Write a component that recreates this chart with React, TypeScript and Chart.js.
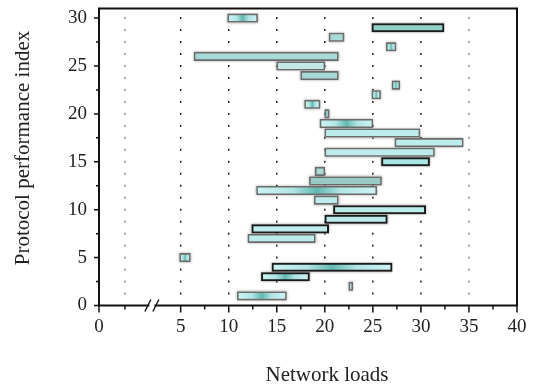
import React, { useEffect, useRef } from "react";
import { Chart, registerables } from "chart.js";

Chart.register(...registerables);

// ---- data ----
const indices = [1, 2, 3, 4, 5, 7, 8, 9, 10, 11, 12, 13, 14, 15, 16, 17, 18, 19, 20, 21, 22, 23, 24, 25, 26, 27, 28, 29, 30];
const starts = [10.9, 22.5, 13.4, 14.5, 4.9, 12.0, 12.4, 20.0, 20.9, 18.9, 12.9, 18.4, 19.0, 25.9, 20.0, 27.3, 20.0, 19.5, 20.0, 17.9, 24.9, 27.0, 17.5, 15.0, 6.4, 26.4, 20.45, 24.9, 9.9];
const ends = [16.0, 22.9, 18.4, 27.0, 6.0, 19.0, 20.4, 26.5, 30.5, 21.4, 25.4, 25.9, 20.0, 30.9, 31.4, 34.4, 29.9, 25.0, 20.45, 19.5, 25.8, 27.8, 21.4, 20.0, 21.4, 27.4, 22.0, 32.4, 13.0];

// axis ticks (broken x axis: the first tick is labelled 0)
const XMIN = -3.5;
const BREAK_X = 2;
const xTickValues = [XMIN, 5, 10, 15, 20, 25, 30, 35, 40];
const xMinorTicks = [-0.8, 7.5, 12.5, 17.5, 22.5, 27.5, 32.5, 37.5];
const yTickValues = [0, 5, 10, 15, 20, 25, 30];
const yMinorTicks = [2.5, 7.5, 12.5, 17.5, 22.5, 27.5];
const gridXValues = [-0.8, 5, 10, 15, 20, 25, 30, 35];
const xTitle = "Network loads";
const yTitle = "Protocol performance index";

// ---- styles ----
const fillKinds = ["g", "l", "g", "g", "g", "l", "l", "l", "l", "l", "g", "r", "m", "p", "l", "l", "l", "g", "g", "g", "g", "g", "m", "c", "m", "g", "m", "f", "g"];
const borderKinds = ["g", "g", "k", "k", "g", "g", "k", "k", "k", "g", "g", "g", "g", "k", "g", "g", "g", "g", "g", "g", "g", "g", "g", "g", "g", "g", "g", "k", "g"];
const fillColors: Record<string, string> = {
  l: "#bdeced",
  m: "#a6dbd7",
  r: "#98cac6",
  p: "#a8e6e4",
  c: "#c3e8e6",
  f: "#8ecfc8",
};
const borderColors: Record<string, string> = { g: "#6b6b6b", k: "#1a1a1a" };
const borderWidths: Record<string, number> = { g: 1.6, k: 2 };

const FONT = "'Liberation Serif', 'Times New Roman', serif";

const decorPlugin = {
  id: "decor",
  beforeDatasetsDraw(chart: any) {
    const { ctx } = chart;
    const xs = chart.scales.x;
    const ys = chart.scales.y;
    ctx.save();
    // dotted vertical grid
    gridXValues.forEach((v) => {
      const px = xs.getPixelForValue(v);
      ctx.fillStyle = v === -0.8 || v === 35 ? "#8a8a8a" : "#1e1e1e";
      for (let k = 1; k <= 24; k++) {
        const py = ys.getPixelForValue(k * 1.25);
        ctx.fillRect(px - 0.75, py - 1, 1.5, 2);
      }
    });
    // soft halo behind bars
    const meta = chart.getDatasetMeta(0);
    meta.data.forEach((el: any) => {
      const p = el.getProps(["x", "y", "base", "height"], true);
      const l = Math.min(p.x, p.base);
      const r = Math.max(p.x, p.base);
      ctx.save();
      ctx.shadowColor = "rgba(0,0,0,0.35)";
      ctx.shadowBlur = 2.5;
      ctx.fillStyle = "#bdbdbd";
      ctx.fillRect(l - 0.3, p.y - p.height / 2 - 0.3, r - l + 0.6, p.height + 0.6);
      ctx.restore();
    });
    ctx.restore();
  },
  afterDatasetsDraw(chart: any) {
    const { ctx, chartArea } = chart;
    const xs = chart.scales.x;
    const ys = chart.scales.y;
    const { left, right, top, bottom } = chartArea;
    ctx.save();
    ctx.strokeStyle = "#111";
    ctx.lineWidth = 2;
    ctx.beginPath();
    ctx.rect(left, top, right - left, bottom - top);
    ctx.stroke();
    ctx.lineWidth = 1.5;
    ctx.beginPath();
    xTickValues.forEach((v) => {
      const px = xs.getPixelForValue(v);
      ctx.moveTo(px, bottom);
      ctx.lineTo(px, bottom + 7);
    });
    xMinorTicks.forEach((v) => {
      const px = xs.getPixelForValue(v);
      ctx.moveTo(px, bottom);
      ctx.lineTo(px, bottom + 4);
    });
    yTickValues.forEach((v) => {
      const py = ys.getPixelForValue(v);
      ctx.moveTo(left, py);
      ctx.lineTo(left - 5, py);
    });
    yMinorTicks.forEach((v) => {
      const py = ys.getPixelForValue(v);
      ctx.moveTo(left, py);
      ctx.lineTo(left - 3, py);
    });
    ctx.stroke();
    // axis break marks
    const bx = xs.getPixelForValue(BREAK_X);
    ctx.fillStyle = "#fff";
    ctx.fillRect(bx - 2.5, bottom - 1.5, 5, 3);
    ctx.lineWidth = 1.4;
    ctx.beginPath();
    ctx.moveTo(bx - 7, bottom + 6);
    ctx.lineTo(bx - 1, bottom - 6);
    ctx.moveTo(bx + 1, bottom + 6);
    ctx.lineTo(bx + 7, bottom - 6);
    ctx.stroke();
    ctx.restore();
  },
  afterDraw(chart: any) {
    const { ctx } = chart;
    ctx.save();
    ctx.fillStyle = "#222";
    ctx.font = `21px ${FONT}`;
    ctx.textAlign = "center";
    ctx.textBaseline = "middle";
    ctx.fillText(xTitle, 327, 375);
    ctx.translate(23, 148);
    ctx.rotate(-Math.PI / 2);
    ctx.fillText(yTitle, 0, 0);
    ctx.restore();
  },
};

function bgColor(c: any) {
  const i = c.dataIndex;
  if (i === undefined || i === null) return "#a6dbd7";
  const kind = fillKinds[i];
  if (kind !== "g") return fillColors[kind];
  const xs = c.chart.scales && c.chart.scales.x;
  if (!xs) return "#a6dbd7";
  const x0 = xs.getPixelForValue(starts[i]);
  const x1 = xs.getPixelForValue(ends[i]);
  if (!isFinite(x0) || !isFinite(x1) || x0 === x1) return "#a6dbd7";
  const g = c.chart.ctx.createLinearGradient(x0, 0, x1, 0);
  g.addColorStop(0, "#cdf3f4");
  g.addColorStop(0.3, "#b0e6e4");
  g.addColorStop(0.5, "#62b8b2");
  g.addColorStop(0.7, "#b0e6e4");
  g.addColorStop(1, "#cdf3f4");
  return g;
}

function zeroPad(s: any) {
  s.paddingTop = 0;
  s.paddingBottom = 0;
  s.paddingLeft = 0;
  s.paddingRight = 0;
}

export default function App() {
  const ref = useRef<HTMLCanvasElement>(null);
  useEffect(() => {
    document.body.style.margin = "0";
    const data = indices.map((y, i) => ({ x: [starts[i], ends[i]], y }));
    const chart = new Chart(ref.current!, {
      type: "bar",
      data: {
        datasets: [
          {
            data: data as any,
            backgroundColor: bgColor as any,
            borderColor: ((c: any) => borderColors[borderKinds[c.dataIndex] || "g"]) as any,
            borderWidth: ((c: any) => borderWidths[borderKinds[c.dataIndex] || "g"]) as any,
            borderSkipped: false,
            barThickness: 8.4,
          },
        ],
      },
      plugins: [decorPlugin],
      options: {
        indexAxis: "y",
        animation: false,
        responsive: false,
        devicePixelRatio: 1,
        layout: { padding: { top: 8.5, right: 20, left: 0, bottom: 0 } },
        plugins: { legend: { display: false }, tooltip: { enabled: false } },
        scales: {
          x: {
            type: "linear",
            min: XMIN,
            max: 40,
            offset: false,
            grid: { display: false, drawTicks: false, tickLength: 0 },
            border: { display: false },
            afterBuildTicks: (s: any) => {
              s.ticks = xTickValues.map((value) => ({ value }));
            },
            afterFit: (s: any) => {
              s.height = 82.5;
              zeroPad(s);
            },
            ticks: {
              autoSkip: false,
              maxRotation: 0,
              padding: 10,
              color: "#222",
              font: { family: FONT, size: 19 },
              callback: (v: any) => (v === XMIN ? "0" : String(v)),
            },
            title: { display: false },
          },
          y: {
            type: "linear",
            min: 0,
            max: 31,
            offset: false,
            grid: { display: false, drawTicks: false, tickLength: 0 },
            border: { display: false },
            afterBuildTicks: (s: any) => {
              s.ticks = yTickValues.map((value) => ({ value }));
            },
            afterFit: (s: any) => {
              s.width = 99;
              zeroPad(s);
            },
            ticks: {
              autoSkip: false,
              padding: 12,
              color: "#222",
              font: { family: FONT, size: 19 },
            },
            title: { display: false },
          },
        },
      },
    });
    return () => chart.destroy();
  }, []);
  return (
    <div style={{ width: 537, height: 388 }}>
      <canvas ref={ref} width={537} height={388} />
    </div>
  );
}
